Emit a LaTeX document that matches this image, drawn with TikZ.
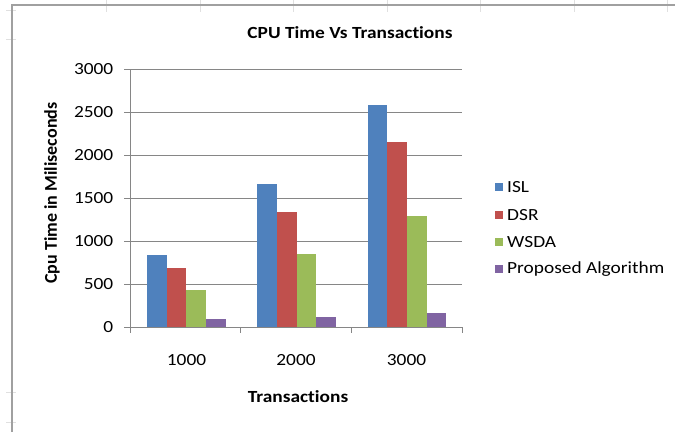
\documentclass[tikz,border=0pt]{standalone}
\usepackage{fontspec}
\usepackage{graphicx}
\setmainfont{Carlito}[Ligatures=NoCommon]
\definecolor{islblue}{HTML}{4F81BD}
\definecolor{dsrred}{HTML}{C0504D}
\definecolor{wsdagreen}{HTML}{9BBB59}
\definecolor{propviolet}{HTML}{8064A2}
\definecolor{axisgray}{HTML}{868686}
\definecolor{framegray}{HTML}{A0A0A0}
% chart text is set slightly wide
\newcommand{\widetext}[1]{\scalebox{1.14}[1]{#1}}
\begin{document}
\begin{tikzpicture}[x=1pt,y=-1pt,
  gridline/.style={axisgray,line width=0.9pt},
  axisline/.style={axisgray,line width=0.9pt},
  ticklabel/.style={font=\fontsize{17}{17}\selectfont,inner sep=0pt},
  legendtext/.style={font=\fontsize{17}{17}\selectfont,anchor=west,inner sep=0pt},
  sheettick/.style={black!12,line width=0.8pt}]
\useasboundingbox (0,0) rectangle (679,432);
\fill[white] (0,0) rectangle (679,432);
% faint worksheet cell marks around the chart
\foreach \xx in {106,200,293,387,480,574,667} \draw[sheettick] (\xx,0) -- (\xx,12);
\foreach \yy in {10,39,392,422} \draw[sheettick] (6,\yy) -- (16,\yy);
% chart frame
\draw[framegray,line width=1.2pt] (12,432) -- (12,5) -- (675,5);
% title
\node[font=\fontsize{17}{17}\selectfont\bfseries] (title) at (350,33) {\widetext{CPU Time Vs Transactions}};
% value gridlines and labels (0..3000, 43px per 500)
\foreach \v [count=\i from 0] in {0,500,1000,1500,2000,2500,3000} {
  \pgfmathsetmacro{\yy}{327-43*\i}
  \draw[gridline] (124,\yy) -- (462,\yy);
  \node[ticklabel,anchor=east] (ylab\i) at (113.5,\yy) {\widetext{\v}};
}
% axes
\draw[axisline] (130,69) -- (130,327);
\foreach \xx in {130,240.7,351.3,462} \draw[axisline] (\xx,327) -- (\xx,333);
% bars: value v drawn with height 0.086*v
\newcommand{\drawbar}[3]{\fill[#3] (#1,327) rectangle ++(19.7,{-0.086*#2});}
\foreach \c/\a/\b/\d/\e in {0/841/686/430/90, 1/1659/1334/845/120, 2/2585/2155/1287/163} {
  \pgfmathsetmacro{\bx}{147+110.3*\c}
  \drawbar{\bx}{\a}{islblue}
  \drawbar{\bx+19.7}{\b}{dsrred}
  \drawbar{\bx+39.4}{\d}{wsdagreen}
  \drawbar{\bx+59.1}{\e}{propviolet}
}
% category labels
\node[ticklabel] (c1) at (186.5,360) {\widetext{1000}};
\node[ticklabel] (c2) at (296,360) {\widetext{2000}};
\node[ticklabel] (c3) at (406.5,360) {\widetext{3000}};
% axis titles
\node[font=\fontsize{17}{17}\selectfont\bfseries] (xtitle) at (298,397) {\widetext{Transactions}};
\node[font=\fontsize{18}{18}\selectfont\bfseries,rotate=90] (ytitle) at (52,193) {Cpu Time in Miliseconds};
% legend
\foreach \col/\txt/\yy [count=\k] in {islblue/ISL/186.7, dsrred/DSR/214.7, wsdagreen/WSDA/242, propviolet/Proposed Algorithm/269} {
  \fill[\col] (495,\yy-4) rectangle (503,\yy+4);
  \node[legendtext] (leg\k) at (507,\yy) {\widetext{\txt}};
}
\end{tikzpicture}
\end{document}
